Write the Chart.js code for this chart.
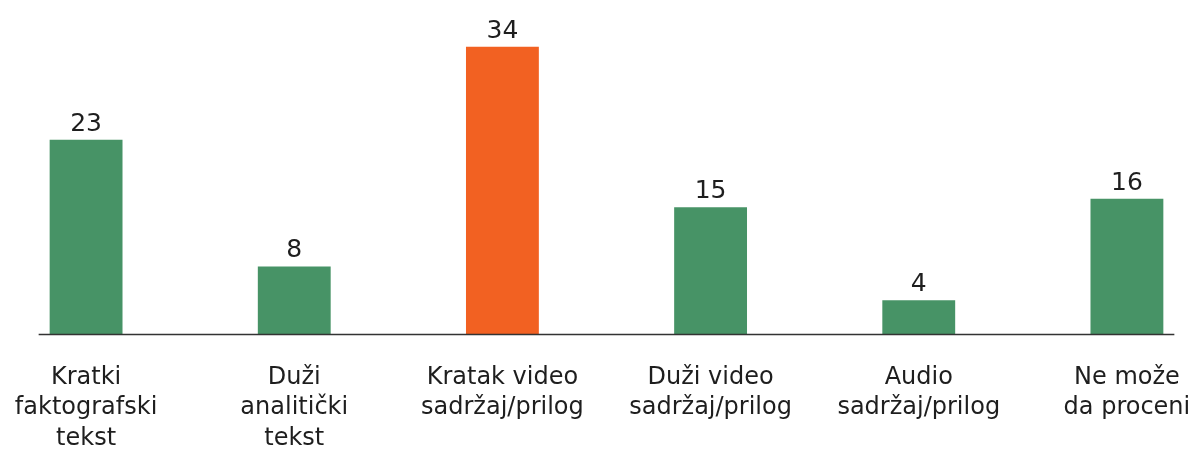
<!DOCTYPE html>
<html>
<head>
<meta charset="utf-8">
<script src="https://cdn.jsdelivr.net/npm/chart.js@4"></script>
<style>
  html, body { margin: 0; padding: 0; overflow: hidden; background: #fff; }
  #wrap { position: absolute; left: -18px; top: 0; width: 1249px; height: 450px; }
</style>
</head>
<body>
<div id="wrap"><canvas id="myChart"></canvas></div>
<script>
var categories = [
    ["Kratki", "faktografski", "tekst"],
    ["Duži", "analitički", "tekst"],
    ["Kratak video", "sadržaj/prilog"],
    ["Duži video", "sadržaj/prilog"],
    ["Audio", "sadržaj/prilog"],
    ["Ne može", "da proceni"]
];
var values = [23, 8, 34, 15, 4, 16];
var barColors = ["#479366", "#479366", "#f26122", "#479366", "#479366", "#479366"];

// value labels above bars + baseline
var valueLabels = {
    id: 'valueLabels',
    afterDatasetsDraw: function (chart) {
        var ctx = chart.ctx;
        var meta = chart.getDatasetMeta(0);
        var x = chart.scales.x;
        var y = chart.scales.y;
        var half = meta.data[0].width / 2 + 11;

        ctx.save();
        ctx.strokeStyle = "#333333";
        ctx.lineWidth = 1.5;
        ctx.beginPath();
        ctx.moveTo(x.getPixelForValue(0) - half, y.getPixelForValue(0) + 0.5);
        ctx.lineTo(x.getPixelForValue(values.length - 1) + half, y.getPixelForValue(0) + 0.5);
        ctx.stroke();

        ctx.fillStyle = "#1e1e1e";
        ctx.font = "25px 'DejaVu Sans'";
        ctx.textAlign = "center";
        ctx.textBaseline = "alphabetic";
        meta.data.forEach(function (bar, i) {
            ctx.fillText(values[i], bar.x, bar.y - 9);
        });
        ctx.restore();
    }
};

new Chart("myChart", {
    type: "bar",
    data: {
        labels: categories,
        datasets: [{
            backgroundColor: barColors,
            data: values,
            categoryPercentage: 1,
            barPercentage: 0.35
        }]
    },
    options: {
        responsive: true,
        maintainAspectRatio: false,
        animation: false,
        layout: { padding: { top: 13, bottom: 0, left: 0, right: 0 } },
        plugins: {
            legend: { display: false },
            tooltip: { enabled: false }
        },
        scales: {
            x: {
                grid: { display: false, drawTicks: false },
                border: { display: false },
                afterFit: function (scale) { scale.height = 116; },
                ticks: {
                    color: "#1e1e1e",
                    font: { family: "'DejaVu Sans'", size: 24, lineHeight: 1.28 },
                    padding: 28,
                    maxRotation: 0,
                    autoSkip: false
                }
            },
            y: {
                display: false,
                min: 0,
                max: 38
            }
        }
    },
    plugins: [valueLabels]
});
</script>
</body>
</html>
